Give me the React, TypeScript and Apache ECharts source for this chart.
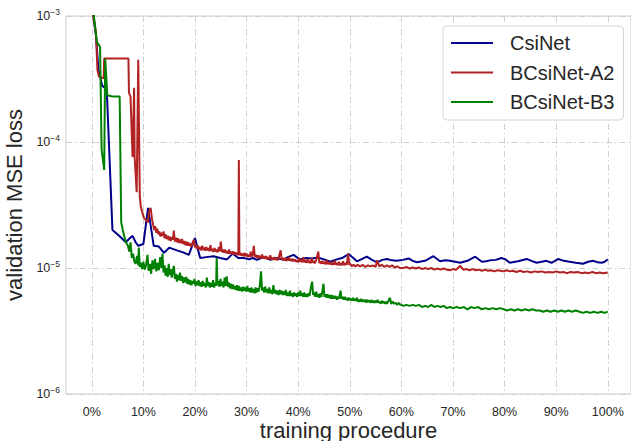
import React, { useEffect, useRef } from "react";
import * as echarts from "echarts";

const xTicks = [0, 10, 20, 30, 40, 50, 60, 70, 80, 90, 100];
const seriesNames = ["CsiNet", "BCsiNet-A2", "BCsiNet-B3"];
const seriesColors = ["#00008b", "#b22222", "#008000"];

const csiNet: [number, number][] = [
  [0, 3e-3], [0.3, 1.0e-3], [0.8, 7e-4], [1.3, 3.7e-4], [1.7, 3.2e-4], [2.0, 2.8e-4], [2.5, 2.7e-4], [2.9, 2.6e-4],
  [4.0, 2.0e-5], [5.3, 1.8e-5], [6.6, 1.6e-5], [7.2, 1.7e-5], [7.9, 1.8e-5], [8.5, 1.6e-5], [9.0, 1.5e-5], [10.0, 1.55e-5],
  [10.9, 3.0e-5], [12.0, 1.5e-5], [13.0, 1.48e-5], [14.0, 1.32e-5], [15.0, 1.45e-5], [16.5, 1.38e-5], [17.7, 1.33e-5],
  [18.8, 1.27e-5], [20.0, 1.73e-5], [21.0, 1.2e-5], [22.2, 1.22e-5], [23.6, 1.24e-5], [24.9, 1.2e-5], [26.2, 1.17e-5],
  [27.3, 1.3e-5], [28.4, 1.2e-5], [29.5, 1.2e-5], [30.5, 1.17e-5], [31.2, 1.2e-5], [32.0, 1.16e-5], [33.3, 1.22e-5],
  [34.6, 1.16e-5], [35.8, 1.2e-5], [37.2, 1.16e-5], [38.0, 1.22e-5], [39.1, 1.27e-5], [40.3, 1.17e-5], [41.5, 1.2e-5],
  [42.7, 1.19e-5], [43.8, 1.21e-5], [45.0, 1.17e-5], [46.2, 1.12e-5], [47.5, 1.17e-5], [48.5, 1.2e-5], [49.8, 1.29e-5],
  [51.4, 1.13e-5], [52.4, 1.18e-5], [53.3, 1.23e-5], [54.3, 1.16e-5], [55.3, 1.11e-5], [56.3, 1.16e-5], [57.2, 1.18e-5],
  [58.2, 1.15e-5], [59.1, 1.14e-5], [60.3, 1.16e-5], [61.4, 1.19e-5], [62.2, 1.14e-5], [63.0, 1.11e-5], [64.6, 1.14e-5],
  [66.2, 1.24e-5], [67.5, 1.13e-5], [68.5, 1.15e-5], [69.4, 1.14e-5], [70.4, 1.12e-5], [71.4, 1.1e-5], [72.8, 1.14e-5],
  [74.3, 1.23e-5], [75.6, 1.12e-5], [76.4, 1.13e-5], [77.2, 1.15e-5], [78.3, 1.16e-5], [79.4, 1.2e-5], [80.2, 1.17e-5],
  [81.0, 1.1e-5], [82.6, 1.13e-5], [84.3, 1.18e-5], [85.2, 1.14e-5], [86.2, 1.1e-5], [87.2, 1.12e-5], [88.1, 1.14e-5],
  [89.1, 1.1e-5], [90.4, 1.18e-5], [91.5, 1.14e-5], [92.6, 1.12e-5], [93.8, 1.1e-5], [95.2, 1.08e-5], [96.2, 1.12e-5],
  [97.2, 1.14e-5], [98.0, 1.11e-5], [98.8, 1.1e-5], [99.4, 1.12e-5], [100.0, 1.17e-5],
];

const bcsiNetA2: [number, number][] = [
  [0, 3e-3], [0.3, 1.0e-3], [0.8, 7.3e-4], [1.1, 3.7e-4], [1.4, 3.3e-4], [2.3, 3.2e-4], [2.4, 4.6e-4], [7.1, 4.6e-4],
  [7.2, 2.45e-4], [7.5, 2.3e-4], [7.9, 7.6e-5], [8.2, 2.7e-4], [8.3, 7.6e-5], [8.7, 4.0e-5], [9.0, 4.5e-4], [9.3, 3.7e-5],
  [9.5, 3.05e-5], [10.1, 2.5e-5], [10.5, 2.4e-5], [10.9, 2.3e-5], [11.1, 2.8e-5], [11.4, 3.0e-5], [11.7, 2.4e-5],
  [12.1, 2.0e-5], [12.3, 2.15e-5], [12.5, 1.9e-5], [12.7, 2.05e-5], [12.9, 1.85e-5], [13.1, 1.95e-5], [13.3, 1.78e-5],
  [13.5, 1.9e-5], [13.7, 1.8e-5], [13.9, 1.95e-5], [14.1, 1.72e-5], [14.3, 1.85e-5], [14.5, 1.7e-5], [14.7, 1.8e-5],
  [14.9, 1.66e-5], [15.1, 1.78e-5], [15.3, 1.64e-5], [15.5, 1.75e-5], [15.7, 1.68e-5], [15.9, 1.98e-5], [16.1, 1.62e-5],
  [16.3, 1.74e-5], [16.5, 1.6e-5], [16.7, 1.72e-5], [16.9, 1.58e-5], [17.1, 1.68e-5], [17.3, 1.57e-5], [17.5, 1.7e-5],
  [17.7, 1.55e-5], [17.9, 1.64e-5], [18.1, 1.52e-5], [18.3, 1.62e-5], [18.5, 1.5e-5], [18.7, 1.6e-5], [18.9, 1.5e-5],
  [19.1, 1.56e-5], [19.3, 1.47e-5], [19.5, 1.58e-5], [19.8, 1.68e-5], [20.0, 1.46e-5], [20.2, 1.52e-5], [20.4, 1.42e-5],
  [20.6, 1.5e-5], [20.8, 1.4e-5], [21.0, 1.47e-5], [21.2, 1.38e-5], [21.4, 1.5e-5], [21.6, 1.39e-5], [21.8, 1.45e-5],
  [22.0, 1.37e-5], [22.2, 1.47e-5], [22.4, 1.38e-5], [22.6, 1.44e-5], [22.8, 1.36e-5], [23.0, 1.52e-5], [23.2, 1.36e-5],
  [23.4, 1.42e-5], [23.6, 1.34e-5], [23.8, 1.44e-5], [24.0, 1.35e-5], [24.2, 1.4e-5], [24.4, 1.33e-5], [24.6, 1.46e-5],
  [24.8, 1.36e-5], [25.0, 1.62e-5], [25.2, 1.34e-5], [25.4, 1.4e-5], [25.6, 1.32e-5], [25.8, 1.4e-5], [26.0, 1.31e-5],
  [26.2, 1.37e-5], [26.4, 1.3e-5], [26.6, 1.4e-5], [26.8, 1.3e-5], [27.0, 1.35e-5], [27.2, 1.28e-5], [27.4, 1.36e-5],
  [27.6, 1.28e-5], [27.8, 1.33e-5], [28.0, 1.27e-5], [28.2, 1.32e-5], [28.4, 1.26e-5], [28.5, 7.2e-5], [28.6, 1.26e-5],
  [28.8, 1.32e-5], [29.0, 1.25e-5], [29.2, 1.3e-5], [29.4, 1.24e-5], [29.6, 1.32e-5], [29.8, 1.24e-5], [30.0, 1.3e-5],
  [30.2, 1.22e-5], [30.4, 1.28e-5], [30.6, 1.22e-5], [30.8, 1.35e-5], [31.0, 1.23e-5], [31.2, 1.28e-5], [31.4, 1.5e-5],
  [31.6, 1.22e-5], [31.8, 1.27e-5], [32.0, 1.2e-5], [32.2, 1.26e-5], [32.4, 1.2e-5], [32.6, 1.25e-5], [32.8, 1.19e-5],
  [33.0, 1.28e-5], [33.2, 1.19e-5], [33.4, 1.24e-5], [33.6, 1.18e-5], [33.8, 1.24e-5], [34.0, 1.18e-5], [34.2, 1.22e-5],
  [34.4, 1.17e-5], [34.6, 1.26e-5], [34.8, 1.17e-5], [35.0, 1.21e-5], [35.2, 1.16e-5], [35.4, 1.22e-5], [35.6, 1.16e-5],
  [35.8, 1.2e-5], [36.0, 1.15e-5], [36.2, 1.2e-5], [36.6, 1.38e-5], [36.8, 1.16e-5], [37.0, 1.2e-5], [37.2, 1.15e-5],
  [37.4, 1.2e-5], [37.6, 1.14e-5], [37.8, 1.19e-5], [38.0, 1.14e-5], [38.2, 1.22e-5], [38.4, 1.14e-5], [38.6, 1.18e-5],
  [38.8, 1.13e-5], [39.0, 1.18e-5], [39.2, 1.13e-5], [39.4, 1.17e-5], [39.6, 1.12e-5], [39.8, 1.15e-5], [40.0, 1.11e-5],
  [40.2, 1.2e-5], [40.4, 1.12e-5], [40.6, 1.16e-5], [40.8, 1.11e-5], [41.0, 1.22e-5], [41.2, 1.11e-5], [41.4, 1.15e-5],
  [41.6, 1.1e-5], [41.8, 1.18e-5], [42.0, 1.1e-5], [42.2, 1.14e-5], [42.4, 1.09e-5], [42.6, 1.2e-5], [42.8, 1.1e-5],
  [43.0, 1.14e-5], [43.2, 1.09e-5], [43.5, 1.16e-5], [43.9, 1.35e-5], [44.1, 1.09e-5], [44.3, 1.13e-5], [44.5, 1.08e-5],
  [44.7, 1.14e-5], [44.9, 1.08e-5], [45.1, 1.12e-5], [45.3, 1.07e-5], [45.5, 1.15e-5], [45.7, 1.07e-5], [45.9, 1.11e-5],
  [46.1, 1.07e-5], [46.3, 1.12e-5], [46.5, 1.06e-5], [46.7, 1.1e-5], [46.9, 1.06e-5], [47.1, 1.14e-5], [47.3, 1.06e-5],
  [47.5, 1.1e-5], [47.7, 1.05e-5], [47.9, 1.12e-5], [48.1, 1.05e-5], [48.3, 1.09e-5], [48.5, 1.05e-5], [48.7, 1.13e-5],
  [48.9, 1.05e-5], [49.1, 1.09e-5], [49.4, 1.06e-5], [49.7, 1.3e-5], [49.9, 1.06e-5], [50.1, 1.08e-5], [50.4, 1.03e-5],
  [50.7, 1.06e-5], [51.1, 1.03e-5], [51.5, 1.06e-5], [52.0, 1.03e-5], [52.5, 1.06e-5], [53.0, 1.02e-5], [53.5, 1.05e-5],
  [54.0, 1.03e-5], [54.5, 1.05e-5], [55.0, 1.02e-5], [55.3, 1.15e-5], [55.7, 1.03e-5], [56.2, 1.06e-5], [56.7, 1.02e-5],
  [57.2, 1.05e-5], [57.7, 1.02e-5], [58.2, 1.05e-5], [58.7, 1.01e-5], [59.2, 1.03e-5], [59.7, 1.0e-5], [60.4, 1.0e-5],
  [61.0, 1.02e-5], [61.6, 0.99e-5], [62.2, 1.01e-5], [62.8, 0.99e-5], [63.4, 1.01e-5], [64.0, 0.98e-5], [64.6, 1.0e-5],
  [65.2, 0.98e-5], [65.8, 1.0e-5], [66.4, 0.97e-5], [67.0, 0.99e-5], [67.6, 0.97e-5], [68.2, 0.99e-5], [68.8, 0.97e-5],
  [69.4, 0.96e-5], [70.0, 0.98e-5], [70.6, 0.97e-5], [71.4, 1.04e-5], [72.0, 0.97e-5], [72.6, 0.98e-5], [73.2, 0.96e-5],
  [73.8, 0.98e-5], [74.4, 0.96e-5], [75.0, 0.97e-5], [75.6, 0.95e-5], [76.2, 0.97e-5], [76.8, 0.95e-5], [77.4, 0.96e-5],
  [78.0, 0.94e-5], [78.6, 0.96e-5], [79.2, 0.95e-5], [79.8, 0.94e-5], [80.4, 0.96e-5], [81.0, 0.94e-5], [81.6, 0.95e-5],
  [82.3, 0.93e-5], [83.0, 0.95e-5], [83.7, 0.93e-5], [84.4, 0.94e-5], [85.1, 0.92e-5], [85.8, 0.94e-5], [86.5, 0.93e-5],
  [87.2, 0.94e-5], [87.9, 0.92e-5], [88.6, 0.93e-5], [89.3, 0.92e-5], [90.0, 0.94e-5], [90.7, 0.92e-5], [91.4, 0.93e-5],
  [92.1, 0.91e-5], [92.8, 0.93e-5], [93.5, 0.92e-5], [94.2, 0.93e-5], [94.9, 0.91e-5], [95.6, 0.92e-5], [96.3, 0.91e-5],
  [97.0, 0.93e-5], [97.7, 0.91e-5], [98.4, 0.92e-5], [99.1, 0.91e-5], [100.0, 0.92e-5],
];

const bcsiNetB3: [number, number][] = [
  [0, 3e-3], [0.4, 1.0e-3], [1.0, 6.2e-4], [1.6, 5.7e-4], [1.9, 8.7e-5], [2.2, 7.0e-5], [2.4, 6.0e-5], [2.6, 4.6e-4],
  [3.0, 2.35e-4], [4.0, 2.3e-4], [5.4, 2.3e-4], [5.7, 2.3e-5], [6.0, 2.0e-5], [6.6, 1.6e-5], [7.0, 1.5e-5], [7.25, 1.35e-5],
  [7.5, 1.6e-5], [7.75, 1.2e-5], [8.0, 1.3e-5], [8.25, 1.12e-5], [8.5, 1.08e-5], [8.75, 1.25e-5], [9.0, 1.05e-5],
  [9.1, 1.45e-5], [9.3, 1.02e-5], [9.5, 1.1e-5], [9.75, 0.98e-5], [10.0, 1.12e-5], [10.25, 0.97e-5], [10.5, 1.05e-5],
  [10.8, 1.27e-5], [11.0, 0.95e-5], [11.25, 1.08e-5], [11.5, 0.9e-5], [11.75, 1.15e-5], [12.0, 0.98e-5], [12.25, 1.18e-5],
  [12.5, 0.94e-5], [12.75, 1.1e-5], [13.0, 0.96e-5], [13.25, 1.22e-5], [13.5, 1.0e-5], [13.7, 1.3e-5], [13.9, 0.92e-5],
  [14.1, 1.05e-5], [14.3, 0.87e-5], [14.5, 1.0e-5], [14.7, 0.85e-5], [14.9, 1.08e-5], [15.1, 0.88e-5], [15.3, 0.98e-5],
  [15.5, 0.84e-5], [15.7, 0.95e-5], [15.9, 1.04e-5], [16.1, 0.82e-5], [16.3, 0.9e-5], [16.5, 0.78e-5], [16.7, 0.88e-5],
  [16.9, 0.8e-5], [17.1, 0.92e-5], [17.3, 0.79e-5], [17.5, 0.86e-5], [17.7, 0.76e-5], [17.9, 0.84e-5], [18.1, 0.77e-5],
  [18.3, 0.85e-5], [18.5, 0.75e-5], [18.7, 0.82e-5], [18.9, 0.74e-5], [19.1, 0.8e-5], [19.3, 0.73e-5], [19.5, 0.79e-5],
  [19.7, 0.75e-5], [19.9, 0.82e-5], [20.1, 0.72e-5], [20.3, 0.78e-5], [20.5, 0.73e-5], [20.7, 0.8e-5], [20.9, 0.72e-5],
  [21.1, 0.77e-5], [21.3, 0.71e-5], [21.5, 0.79e-5], [21.7, 0.72e-5], [21.9, 0.76e-5], [22.1, 0.7e-5], [22.3, 0.84e-5],
  [22.5, 0.72e-5], [22.7, 0.77e-5], [22.9, 0.7e-5], [23.1, 0.76e-5], [23.3, 0.71e-5], [23.5, 0.8e-5], [23.7, 0.7e-5],
  [23.9, 0.76e-5], [24.1, 0.72e-5], [24.2, 1.2e-5], [24.35, 0.73e-5], [24.55, 0.79e-5], [24.75, 0.71e-5], [24.95, 0.82e-5],
  [25.15, 0.72e-5], [25.35, 0.78e-5], [25.55, 0.7e-5], [25.75, 0.84e-5], [25.95, 0.72e-5], [26.15, 0.86e-5], [26.35, 0.71e-5],
  [26.55, 0.77e-5], [26.75, 0.69e-5], [26.95, 0.75e-5], [27.15, 0.68e-5], [27.35, 0.74e-5], [27.55, 0.68e-5], [27.75, 0.72e-5],
  [27.95, 0.67e-5], [28.15, 0.73e-5], [28.35, 0.66e-5], [28.55, 0.72e-5], [28.75, 0.66e-5], [28.95, 0.7e-5], [29.15, 0.65e-5],
  [29.35, 0.71e-5], [29.55, 0.66e-5], [29.75, 0.7e-5], [29.95, 0.65e-5], [30.15, 0.72e-5], [30.35, 0.65e-5], [30.55, 0.69e-5],
  [30.75, 0.64e-5], [30.95, 0.7e-5], [31.15, 0.64e-5], [31.35, 0.68e-5], [31.55, 0.63e-5], [31.75, 0.7e-5], [31.95, 0.64e-5],
  [32.15, 0.69e-5], [32.35, 0.65e-5], [32.55, 0.72e-5], [32.8, 0.94e-5], [33.0, 0.66e-5], [33.2, 0.7e-5], [33.4, 0.64e-5],
  [33.6, 0.71e-5], [33.8, 0.64e-5], [34.0, 0.68e-5], [34.2, 0.63e-5], [34.4, 0.7e-5], [34.6, 0.63e-5], [34.8, 0.67e-5],
  [35.0, 0.62e-5], [35.2, 0.73e-5], [35.4, 0.63e-5], [35.6, 0.67e-5], [35.8, 0.62e-5], [36.0, 0.66e-5], [36.2, 0.61e-5],
  [36.4, 0.67e-5], [36.6, 0.62e-5], [36.8, 0.66e-5], [37.0, 0.61e-5], [37.2, 0.65e-5], [37.4, 0.61e-5], [37.6, 0.67e-5],
  [37.8, 0.6e-5], [38.0, 0.64e-5], [38.2, 0.6e-5], [38.4, 0.66e-5], [38.6, 0.6e-5], [38.8, 0.63e-5], [39.0, 0.59e-5],
  [39.2, 0.64e-5], [39.4, 0.6e-5], [39.6, 0.63e-5], [39.8, 0.59e-5], [40.0, 0.64e-5], [40.2, 0.6e-5], [40.4, 0.66e-5],
  [40.6, 0.6e-5], [40.8, 0.63e-5], [41.0, 0.59e-5], [41.2, 0.64e-5], [41.4, 0.59e-5], [41.6, 0.62e-5], [41.8, 0.59e-5],
  [42.0, 0.63e-5], [42.2, 0.6e-5], [42.45, 0.7e-5], [42.7, 0.78e-5], [42.9, 0.61e-5], [43.1, 0.64e-5], [43.3, 0.59e-5],
  [43.5, 0.65e-5], [43.7, 0.59e-5], [43.9, 0.62e-5], [44.1, 0.58e-5], [44.3, 0.63e-5], [44.5, 0.59e-5], [44.7, 0.66e-5],
  [44.9, 0.75e-5], [45.1, 0.59e-5], [45.3, 0.62e-5], [45.5, 0.58e-5], [45.7, 0.62e-5], [45.9, 0.58e-5], [46.1, 0.61e-5],
  [46.3, 0.57e-5], [46.5, 0.61e-5], [46.7, 0.57e-5], [46.9, 0.6e-5], [47.1, 0.57e-5], [47.3, 0.6e-5], [47.5, 0.56e-5],
  [47.7, 0.59e-5], [47.9, 0.57e-5], [48.2, 0.66e-5], [48.4, 0.57e-5], [48.6, 0.59e-5], [48.8, 0.56e-5], [49.0, 0.59e-5],
  [49.2, 0.56e-5], [49.4, 0.58e-5], [49.6, 0.55e-5], [49.8, 0.58e-5], [50.0, 0.56e-5], [50.2, 0.57e-5], [50.4, 0.55e-5],
  [50.6, 0.58e-5], [50.8, 0.55e-5], [51.0, 0.57e-5], [51.2, 0.55e-5], [51.4, 0.58e-5], [51.6, 0.54e-5], [51.8, 0.56e-5],
  [52.0, 0.54e-5], [52.2, 0.57e-5], [52.4, 0.54e-5], [52.6, 0.56e-5], [52.8, 0.54e-5], [53.0, 0.56e-5], [53.2, 0.53e-5],
  [53.4, 0.56e-5], [53.6, 0.54e-5], [53.8, 0.55e-5], [54.0, 0.53e-5], [54.2, 0.56e-5], [54.4, 0.53e-5], [54.6, 0.55e-5],
  [54.8, 0.53e-5], [55.0, 0.55e-5], [55.2, 0.53e-5], [55.4, 0.56e-5], [55.6, 0.53e-5], [55.8, 0.54e-5], [56.0, 0.52e-5],
  [56.2, 0.55e-5], [56.4, 0.53e-5], [56.6, 0.54e-5], [56.8, 0.52e-5], [57.0, 0.54e-5], [57.2, 0.52e-5], [57.5, 0.55e-5],
  [57.8, 0.58e-5], [58.0, 0.52e-5], [58.3, 0.54e-5], [58.6, 0.52e-5], [58.9, 0.53e-5], [59.2, 0.51e-5], [59.5, 0.53e-5],
  [59.8, 0.51e-5], [60.0, 0.51e-5], [60.4, 0.5e-5], [61.0, 0.51e-5], [61.6, 0.5e-5], [62.2, 0.51e-5], [62.8, 0.5e-5],
  [63.4, 0.51e-5], [64.0, 0.49e-5], [64.6, 0.5e-5], [65.2, 0.49e-5], [65.8, 0.51e-5], [66.4, 0.49e-5], [67.0, 0.5e-5],
  [67.6, 0.49e-5], [68.2, 0.5e-5], [68.8, 0.48e-5], [69.4, 0.49e-5], [70.0, 0.48e-5], [70.7, 0.49e-5], [71.4, 0.48e-5],
  [72.1, 0.49e-5], [72.8, 0.47e-5], [73.5, 0.49e-5], [74.2, 0.48e-5], [74.9, 0.49e-5], [75.6, 0.47e-5], [76.3, 0.48e-5],
  [77.0, 0.47e-5], [77.7, 0.48e-5], [78.4, 0.47e-5], [79.1, 0.48e-5], [79.8, 0.47e-5], [80.5, 0.46e-5], [81.2, 0.47e-5],
  [81.9, 0.46e-5], [82.6, 0.47e-5], [83.3, 0.46e-5], [84.0, 0.47e-5], [84.7, 0.46e-5], [85.4, 0.47e-5], [86.1, 0.46e-5],
  [86.8, 0.46e-5], [87.5, 0.45e-5], [88.2, 0.46e-5], [88.9, 0.45e-5], [89.6, 0.46e-5], [90.3, 0.45e-5], [91.0, 0.46e-5],
  [91.7, 0.45e-5], [92.4, 0.46e-5], [93.1, 0.45e-5], [93.8, 0.46e-5], [94.5, 0.45e-5], [95.2, 0.44e-5], [95.9, 0.45e-5],
  [96.6, 0.44e-5], [97.3, 0.45e-5], [98.0, 0.44e-5], [98.7, 0.45e-5], [99.4, 0.44e-5], [100.0, 0.45e-5],
];

const allData = [csiNet, bcsiNetA2, bcsiNetB3];

const FONT = "'Liberation Sans', Arial, sans-serif";
const TEXT = "#262626";
const GRID = "#d0d0d0";

export default function App() {
  const ref = useRef<HTMLDivElement>(null);
  useEffect(() => {
    document.body.style.margin = "0";
    if (!ref.current) return;
    const chart = echarts.init(ref.current, null, { renderer: "svg" });
    chart.setOption({
      animation: false,
      backgroundColor: "#ffffff",
      textStyle: { fontFamily: FONT },
      grid: {
        left: 66, right: 0, top: 16, bottom: 47,
        show: true, borderColor: "#cccccc", borderWidth: 1,
        containLabel: false, outerBoundsMode: "none",
      },
      legend: {
        orient: "vertical",
        left: 443, top: 26,
        padding: [7, 9, 8, 8],
        backgroundColor: "#ffffff",
        borderColor: "#d6d6d6", borderWidth: 1, borderRadius: 4,
        itemWidth: 42, itemHeight: 2, itemGap: 9.5,
        icon: "rect",
        data: seriesNames,
        textStyle: { fontSize: 20, color: TEXT, fontFamily: FONT, lineHeight: 20, padding: [0, 0, 0, 12] },
      },
      xAxis: {
        type: "value",
        min: -5, max: 104.5,
        name: "training procedure",
        nameLocation: "middle",
        nameGap: 25,
        nameMoveOverlap: false,
        nameTextStyle: { fontSize: 22, color: TEXT, fontFamily: FONT, verticalAlign: "top", lineHeight: 22 },
        axisLine: { show: false },
        axisTick: { show: false, customValues: xTicks },
        axisLabel: {
          customValues: xTicks,
          formatter: (v: number) => `${Math.round(v)}%`,
          fontSize: 12.5, lineHeight: 13, color: TEXT, margin: 11, fontFamily: FONT,
        },
        splitLine: { show: true, lineStyle: { color: GRID, type: [6, 3, 1.5, 3], width: 1 } },
      },
      yAxis: {
        type: "log",
        logBase: 10,
        min: 1e-6, max: 1e-3,
        name: "validation MSE loss",
        nameLocation: "middle",
        nameGap: 36,
        nameTextStyle: { fontSize: 22, color: TEXT, fontFamily: FONT },
        axisLine: { show: false },
        axisTick: { show: false },
        minorTick: { show: false },
        axisLabel: {
          margin: 6,
          fontFamily: FONT,
          formatter: (v: number) => `{b|10}{s|−${Math.round(-Math.log10(v))}}`,
          rich: {
            b: { fontSize: 12.5, color: TEXT, fontFamily: FONT },
            s: { fontSize: 8.5, color: TEXT, fontFamily: FONT, padding: [0, 0, 8, 0] },
          },
        },
        splitLine: { show: true, lineStyle: { color: GRID, type: [6, 3, 1.5, 3], width: 1 } },
      },
      series: seriesNames.map((name, i) => ({
        name,
        type: "line",
        data: allData[i],
        showSymbol: false,
        symbol: "none",
        clip: true,
        lineStyle: { color: seriesColors[i], width: 2 },
        itemStyle: { color: seriesColors[i] },
        z: 2 + i,
      })),
    });
    return () => chart.dispose();
  }, []);
  return <div ref={ref} style={{ width: 631, height: 441 }} />;
}
